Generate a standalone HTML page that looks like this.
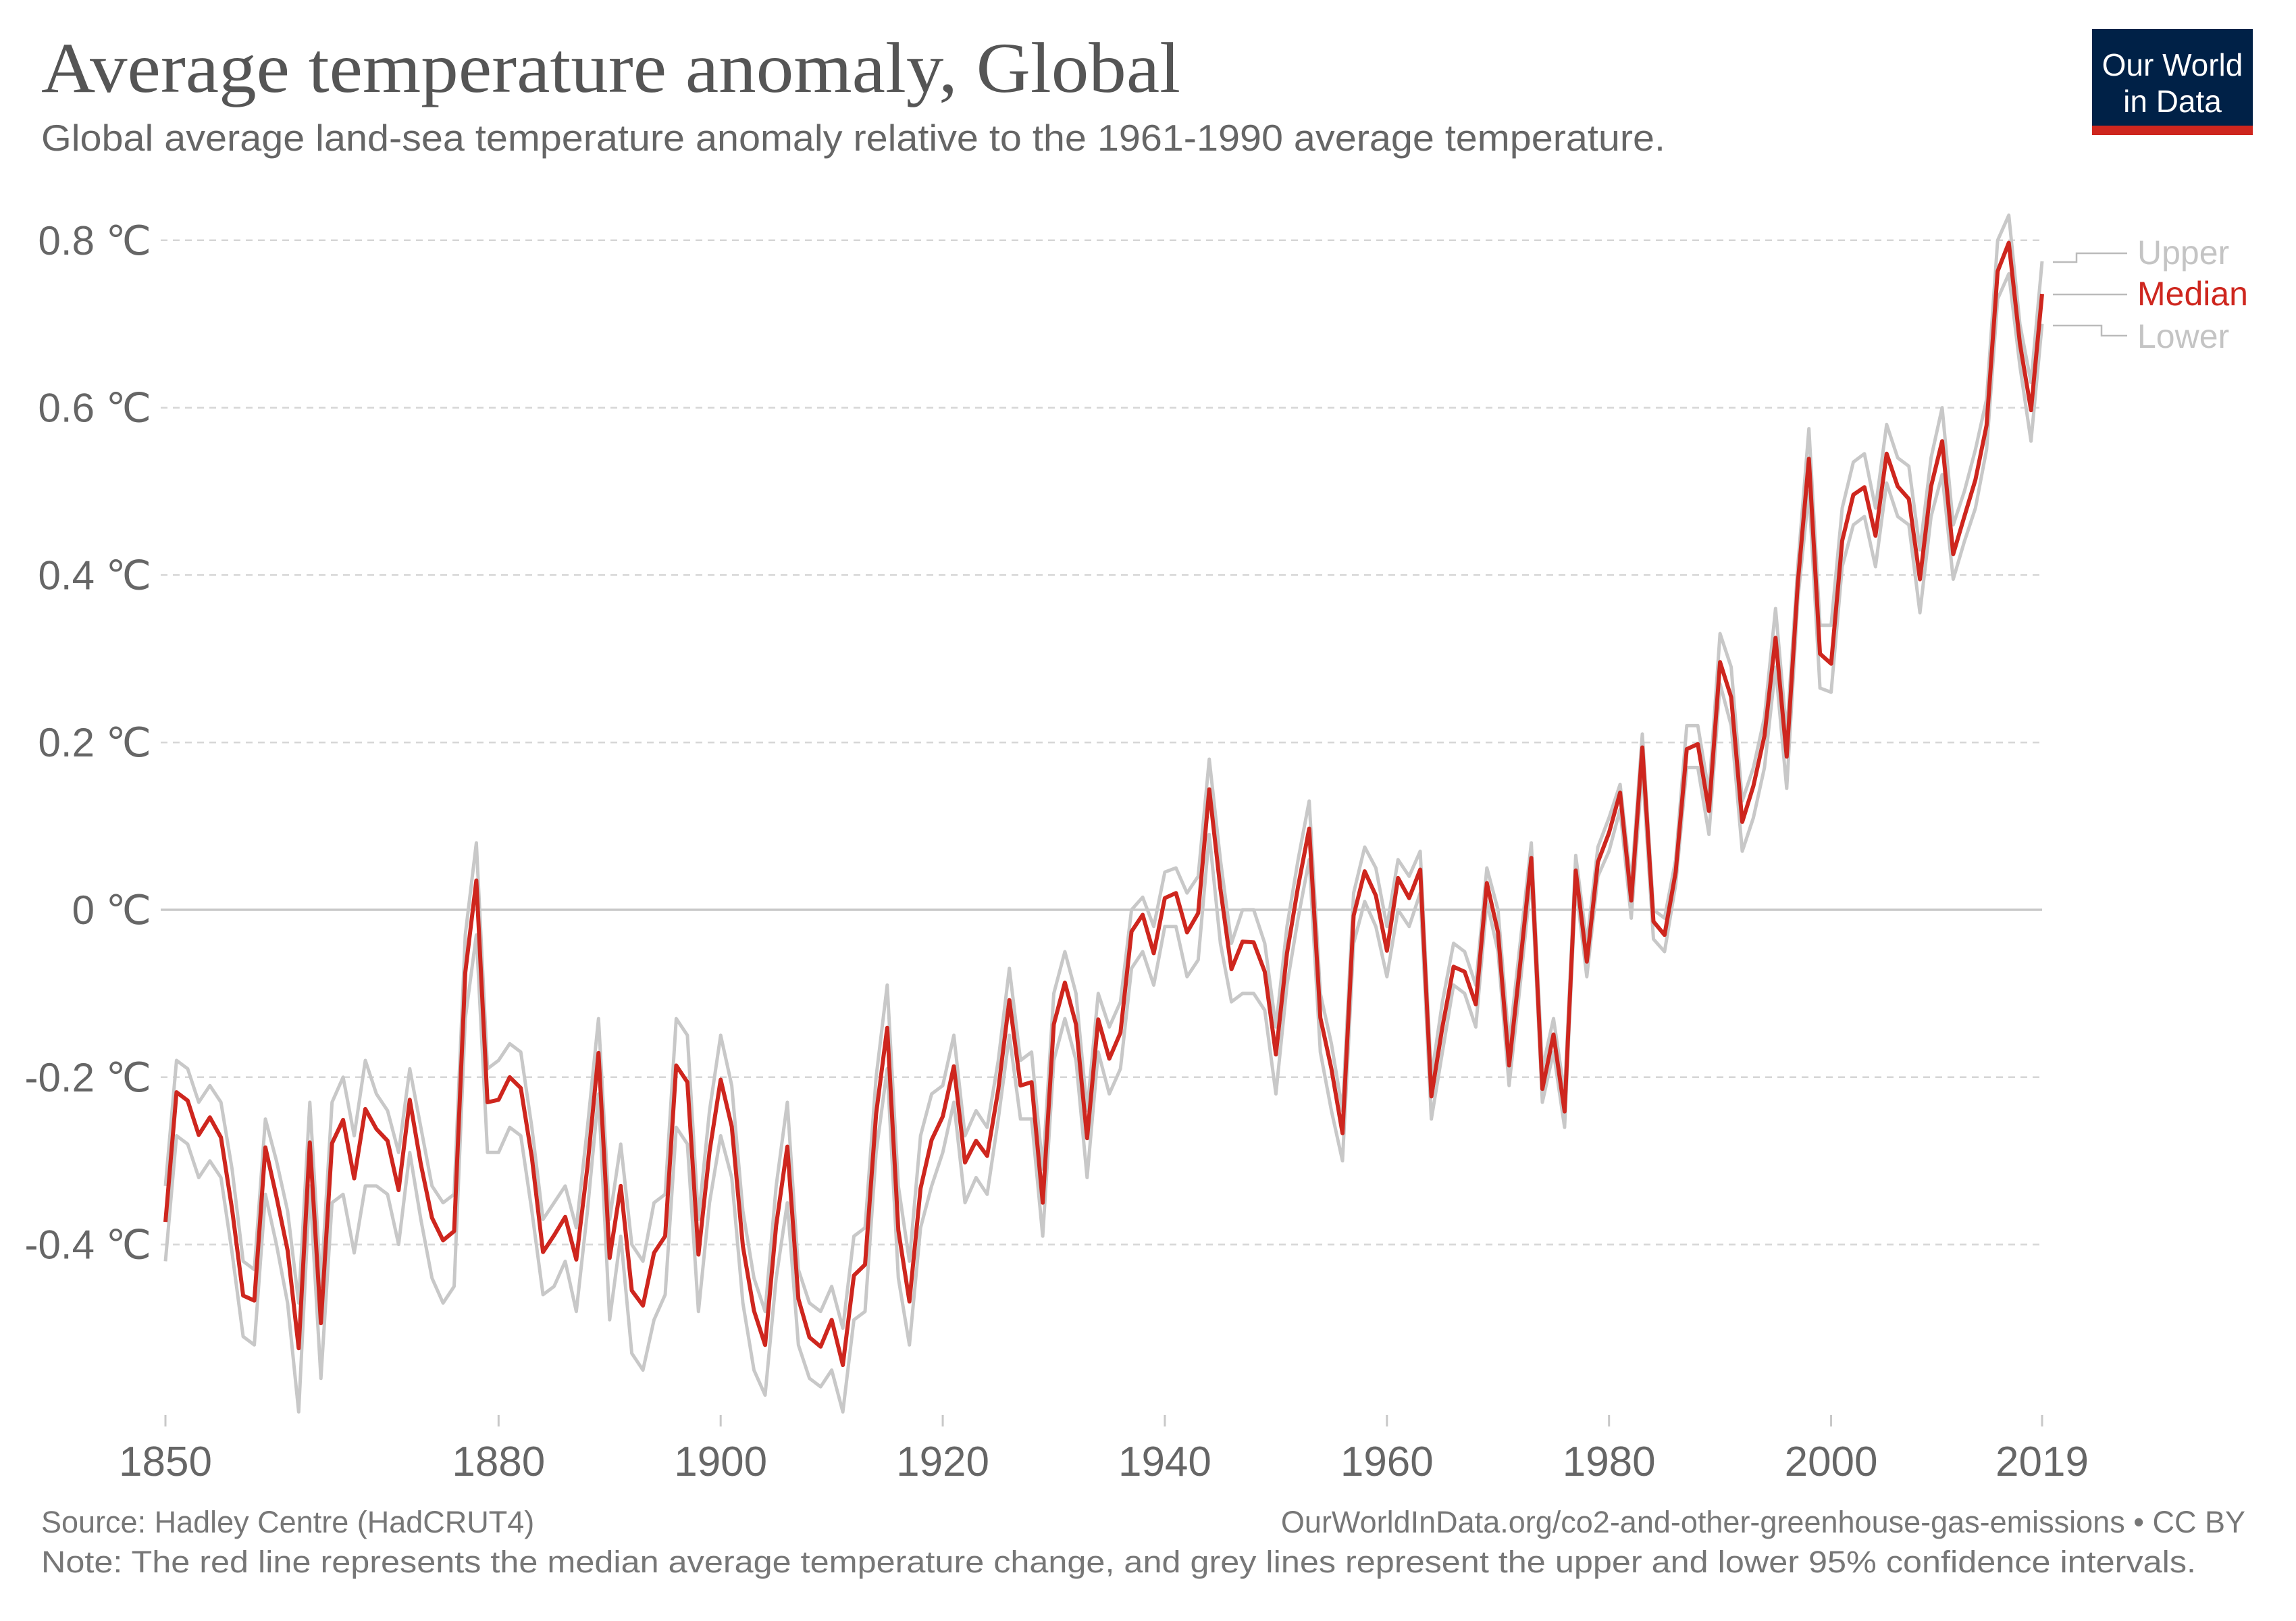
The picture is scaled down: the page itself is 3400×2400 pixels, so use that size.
<!DOCTYPE html>
<html><head><meta charset="utf-8"><style>
html,body{margin:0;padding:0;background:#fff;}
svg{display:block;}
text{font-family:"Liberation Sans",sans-serif;}
</style></head>
<body>
<svg id="chart" width="3400" height="2400" viewBox="0 0 3400 2400" xmlns="http://www.w3.org/2000/svg">
<text x="61" y="136" font-size="106" fill="#555" style="font-family:'Liberation Serif',serif" textLength="1687" lengthAdjust="spacingAndGlyphs">Average temperature anomaly, Global</text>
<text x="61" y="223" font-size="55" fill="#666" textLength="2405" lengthAdjust="spacingAndGlyphs">Global average land-sea temperature anomaly relative to the 1961-1990 average temperature.</text>
<g>
<rect x="3098" y="43" width="238" height="157" fill="#002147"/>
<rect x="3098" y="186" width="238" height="14" fill="#ce261e"/>
<text x="3217" y="112" font-size="46" fill="#fff" text-anchor="middle">Our World</text>
<text x="3217" y="166" font-size="46" fill="#fff" text-anchor="middle">in Data</text>
</g>
<g id="grid"></g>
<g id="ylabels"></g>
<g id="xaxis"></g>
<g id="series"></g>
<g>
<polyline points="3040,388 3075,388 3075,375 3150,375" fill="none" stroke="#bbb" stroke-width="2.5"/>
<polyline points="3040,436 3150,436" fill="none" stroke="#bbb" stroke-width="2.5"/>
<polyline points="3040,482 3112,482 3112,497 3150,497" fill="none" stroke="#bbb" stroke-width="2.5"/>
<text x="3165" y="391" font-size="50" fill="#c4c4c4">Upper</text>
<text x="3165" y="452" font-size="50" fill="#ce261e">Median</text>
<text x="3165" y="515" font-size="50" fill="#c4c4c4">Lower</text>
</g>
<text x="61" y="2269" font-size="45" fill="#777">Source: Hadley Centre (HadCRUT4)</text>
<text x="3325" y="2269" font-size="45" fill="#777" text-anchor="end">OurWorldInData.org/co2-and-other-greenhouse-gas-emissions • CC BY</text>
<text x="61" y="2328" font-size="45" fill="#777" textLength="3191" lengthAdjust="spacingAndGlyphs">Note: The red line represents the median average temperature change, and grey lines represent the upper and lower 95% confidence intervals.</text>
</svg>
<script>
const startYear = 1850;
const median = [-0.373,-0.218,-0.228,-0.269,-0.248,-0.272,-0.358,-0.461,-0.467,-0.284,
-0.343,-0.407,-0.524,-0.278,-0.494,-0.279,-0.251,-0.321,-0.238,-0.262,
-0.276,-0.335,-0.227,-0.304,-0.368,-0.395,-0.384,-0.075,0.035,-0.230,
-0.227,-0.200,-0.213,-0.296,-0.409,-0.389,-0.367,-0.418,-0.307,-0.171,
-0.416,-0.330,-0.455,-0.473,-0.410,-0.390,-0.186,-0.206,-0.412,-0.289,
-0.203,-0.259,-0.402,-0.479,-0.520,-0.377,-0.283,-0.465,-0.511,-0.522,
-0.490,-0.544,-0.437,-0.424,-0.244,-0.141,-0.383,-0.468,-0.333,-0.275,
-0.247,-0.187,-0.302,-0.276,-0.294,-0.215,-0.108,-0.210,-0.206,-0.350,
-0.137,-0.087,-0.137,-0.273,-0.131,-0.178,-0.147,-0.026,-0.006,-0.052,
0.014,0.020,-0.027,-0.004,0.144,0.025,-0.071,-0.038,-0.039,-0.074,
-0.173,-0.052,0.028,0.097,-0.129,-0.190,-0.267,-0.007,0.046,0.017,
-0.049,0.038,0.014,0.048,-0.223,-0.140,-0.068,-0.074,-0.113,0.032,
-0.027,-0.186,-0.065,0.062,-0.214,-0.149,-0.241,0.047,-0.062,0.057,
0.092,0.140,0.011,0.194,-0.014,-0.030,0.045,0.192,0.198,0.118,
0.296,0.254,0.105,0.148,0.208,0.325,0.183,0.390,0.539,0.306,
0.294,0.441,0.496,0.505,0.447,0.545,0.506,0.491,0.395,0.506,
0.560,0.425,0.470,0.514,0.579,0.763,0.797,0.677,0.597,0.736];
const upper = [-0.33,-0.18,-0.19,-0.23,-0.21,-0.23,-0.31,-0.42,-0.43,-0.25,
-0.30,-0.36,-0.47,-0.23,-0.45,-0.23,-0.20,-0.27,-0.18,-0.22,
-0.24,-0.29,-0.19,-0.26,-0.33,-0.35,-0.34,-0.03,0.08,-0.19,
-0.18,-0.16,-0.17,-0.26,-0.37,-0.35,-0.33,-0.38,-0.26,-0.13,
-0.37,-0.28,-0.40,-0.42,-0.35,-0.34,-0.13,-0.15,-0.37,-0.24,
-0.15,-0.21,-0.36,-0.44,-0.48,-0.33,-0.23,-0.43,-0.47,-0.48,
-0.45,-0.50,-0.39,-0.38,-0.20,-0.09,-0.33,-0.42,-0.27,-0.22,
-0.21,-0.15,-0.27,-0.24,-0.26,-0.18,-0.07,-0.18,-0.17,-0.31,
-0.10,-0.05,-0.10,-0.24,-0.10,-0.14,-0.11,0.00,0.015,-0.02,
0.045,0.05,0.02,0.04,0.18,0.06,-0.04,0.00,0.00,-0.04,
-0.14,-0.02,0.06,0.13,-0.10,-0.16,-0.24,0.02,0.075,0.05,
-0.02,0.06,0.04,0.07,-0.20,-0.11,-0.04,-0.05,-0.09,0.05,
0.00,-0.16,-0.04,0.08,-0.19,-0.13,-0.22,0.065,-0.04,0.075,
0.11,0.15,0.03,0.21,0.00,-0.01,0.06,0.22,0.22,0.14,
0.33,0.29,0.13,0.17,0.23,0.36,0.21,0.41,0.575,0.34,
0.34,0.48,0.535,0.545,0.48,0.58,0.54,0.53,0.43,0.54,
0.60,0.46,0.50,0.55,0.61,0.80,0.83,0.70,0.63,0.775];
const lower = [-0.42,-0.27,-0.28,-0.32,-0.30,-0.32,-0.41,-0.51,-0.52,-0.34,
-0.40,-0.47,-0.60,-0.33,-0.56,-0.35,-0.34,-0.41,-0.33,-0.33,
-0.34,-0.40,-0.29,-0.37,-0.44,-0.47,-0.45,-0.13,-0.03,-0.29,
-0.29,-0.26,-0.27,-0.36,-0.46,-0.45,-0.42,-0.48,-0.36,-0.22,
-0.49,-0.39,-0.53,-0.55,-0.49,-0.46,-0.26,-0.28,-0.48,-0.35,
-0.27,-0.32,-0.47,-0.55,-0.58,-0.44,-0.35,-0.52,-0.56,-0.57,
-0.55,-0.60,-0.49,-0.48,-0.29,-0.19,-0.44,-0.52,-0.38,-0.33,
-0.29,-0.23,-0.35,-0.32,-0.34,-0.25,-0.15,-0.25,-0.25,-0.39,
-0.18,-0.13,-0.18,-0.32,-0.17,-0.22,-0.19,-0.07,-0.05,-0.09,
-0.02,-0.02,-0.08,-0.06,0.09,-0.04,-0.11,-0.10,-0.10,-0.12,
-0.22,-0.09,-0.01,0.06,-0.17,-0.24,-0.30,-0.04,0.01,-0.02,
-0.08,0.00,-0.02,0.02,-0.25,-0.17,-0.09,-0.10,-0.14,0.01,
-0.05,-0.21,-0.09,0.04,-0.23,-0.17,-0.26,0.03,-0.08,0.04,
0.07,0.12,-0.01,0.17,-0.035,-0.05,0.03,0.17,0.17,0.09,
0.27,0.22,0.07,0.11,0.17,0.29,0.145,0.37,0.50,0.265,
0.26,0.41,0.46,0.47,0.41,0.51,0.47,0.46,0.355,0.47,
0.52,0.395,0.44,0.48,0.55,0.73,0.76,0.65,0.56,0.70];
const yTicks = [-0.4,-0.2,0,0.2,0.4,0.6,0.8];
const yTickLabels = ["-0.4 ℃","-0.2 ℃","0 ℃","0.2 ℃","0.4 ℃","0.6 ℃","0.8 ℃"];
const xTicks = [1850,1880,1900,1920,1940,1960,1980,2000,2019];

const NS = "http://www.w3.org/2000/svg";
const X0 = 245, X1 = 3024, Y0 = 1347, YPER = 1239; // px per 1.0 °C
function xs(yr){ return X0 + (yr - 1850) * (X1 - X0) / (2019 - 1850); }
function ys(v){ return Y0 - v * YPER; }
function mk(tag, attrs, parent){ const e = document.createElementNS(NS, tag); for (const k in attrs) e.setAttribute(k, attrs[k]); parent.appendChild(e); return e; }

const grid = document.getElementById('grid');
const yl = document.getElementById('ylabels');
yTicks.forEach((t, i) => {
  const ln = mk('line', {x1: 238, x2: X1, y1: ys(t), y2: ys(t), stroke: t === 0 ? '#c8c8c8' : '#d6d6d6', 'stroke-width': t === 0 ? 3.5 : 2.5, 'stroke-dasharray': t === 0 ? 'none' : '10,8'}, grid);
  
  
  const tx = mk('text', {x: 224, y: ys(t) + 21, 'font-size': 60, fill: '#666', 'text-anchor': 'end'}, yl);
  tx.textContent = yTickLabels[i];
  
  
});
const xa = document.getElementById('xaxis');
xTicks.forEach(yr => {
  const tk = mk('line', {x1: xs(yr), x2: xs(yr), y1: 2095, y2: 2112, stroke: '#c8c8c8', 'stroke-width': 3}, xa);
  
  
  const tx = mk('text', {x: xs(yr), y: 2185, 'font-size': 62, fill: '#666', 'text-anchor': 'middle'}, xa);
  tx.textContent = String(yr);
  
  
});
const ser = document.getElementById('series');
function line(arr, color, w, name){
  const pts = arr.map((v, i) => xs(startYear + i).toFixed(1) + ',' + ys(v).toFixed(1)).join(' ');
  const p = mk('polyline', {points: pts, fill: 'none', stroke: color, 'stroke-width': w, 'stroke-linejoin': 'round'}, ser);
  
  
}
line(upper, '#c8c8c8', 5, 'upper-line');
line(lower, '#c8c8c8', 5, 'lower-line');
line(median, '#ce261e', 6, 'median-line');
</script>
</body></html>
